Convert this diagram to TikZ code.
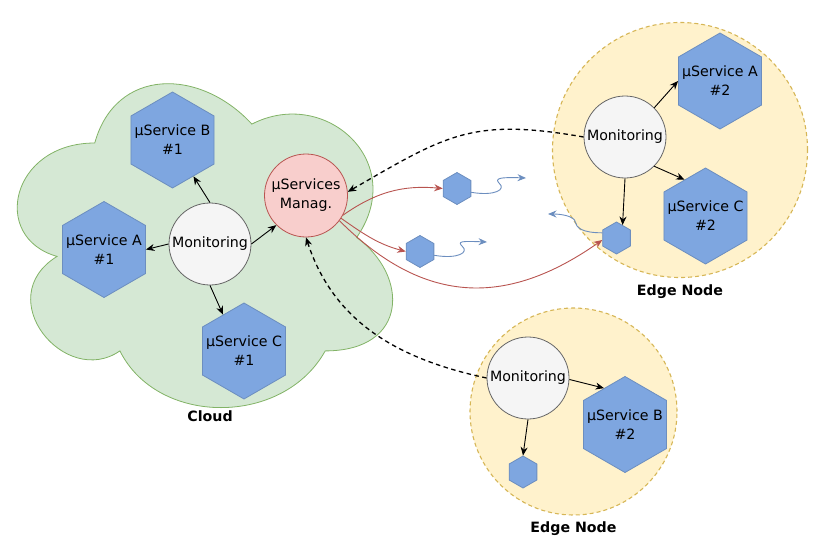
\documentclass[tikz,border=0pt]{standalone}
\usepackage{fontspec}
\setmainfont{DejaVu Sans}
\usepackage{tikz}
\usetikzlibrary{positioning,shapes.geometric,arrows.meta}

\definecolor{cloudfill}{HTML}{D5E8D4}
\definecolor{cloudline}{HTML}{82B366}
\definecolor{hexfill}{HTML}{7EA6E0}
\definecolor{hexline}{HTML}{6C8EBF}
\definecolor{monfill}{HTML}{F5F5F5}
\definecolor{monline}{HTML}{666666}
\definecolor{mgrfill}{HTML}{F8CECC}
\definecolor{mgrline}{HTML}{B85450}
\definecolor{sitefill}{HTML}{FFF2CC}
\definecolor{siteline}{HTML}{D6B656}

\begin{document}
\begin{tikzpicture}[x=1pt,y=-1pt,
  font=\fontsize{14.2}{19}\selectfont,
  >={Stealth[length=8.5pt,width=7pt]},
  hex node/.style={regular polygon,regular polygon sides=6,shape border rotate=30,
    minimum size=96pt,inner sep=0pt,draw=hexline,fill=hexfill,line width=0.8pt},
  hex text/.style={align=center,inner sep=0pt},
  tiny hex/.style={hex node,minimum size=32pt},
  mon node/.style={circle,draw=monline,fill=monfill,minimum size=82pt,inner sep=0pt,line width=0.8pt},
  mgr node/.style={circle,draw=mgrline,fill=mgrfill,minimum size=83pt,inner sep=0pt,align=center,line width=0.8pt},
  site node/.style={circle,draw=siteline,fill=sitefill,dash pattern=on 4pt off 3pt,line width=1.1pt,inner sep=0pt},
  lbl/.style={font=\fontsize{14.2}{19}\selectfont\bfseries,inner sep=0pt},
  arr/.style={->,line width=0.9pt},
  dash arr/.style={->,line width=1.3pt,dash pattern=on 4.5pt off 3.5pt},
  red arr/.style={->,draw=mgrline,line width=0.9pt},
  wave/.style={->,draw=hexline,line width=0.9pt}]

  \useasboundingbox (0,0) rectangle (813,543);

  \begin{scope}[shift={(-10,48.5)},x=4.19pt,y=-3.78pt]
    \draw[fill=cloudfill,draw=cloudline,line width=0.8pt] (25,25)
      .. controls (5,25) and (0,50) .. (16,55)
      .. controls (0,66) and (18,90) .. (31,80)
      .. controls (40,100) and (70,100) .. (80,80)
      .. controls (100,80) and (100,60) .. (87.5,50)
      .. controls (100,30) and (80,10) .. (62.5,20)
      .. controls (50,5) and (30,5) .. (25,25) -- cycle;
  \end{scope}
  \node[lbl] (cloudlbl) at (210,416) {Cloud};

  \node[site node,minimum size=255pt] (site1) at (680,150) {};
  \node[lbl,below=6pt of site1] (lbl1) {Edge Node};
  \node[site node,minimum size=207pt] (site2) at (573.5,411.5) {};
  \node[lbl,below=6pt of site2] (lbl2) {Edge Node};

  \node[mgr node] (mgr) at (306,195.5) {µServices\\Manag.};
  \node[mon node] (mon1) at (210,244) {Monitoring};
  \node[hex node,label={[hex text]center:µService B\\\#1}] (sb1) at (172.5,140) {};
  \node[hex node,label={[hex text]center:µService A\\\#1}] (sa1) at (104,249.5) {};
  \node[hex node,label={[hex text]center:µService C\\\#1}] (sc1) at (244,351) {};

  \node[mon node] (mon2) at (625,137) {Monitoring};
  \node[hex node,label={[hex text]center:µService A\\\#2}] (sa2) at (720,81) {};
  \node[hex node,label={[hex text]center:µService C\\\#2}] (sc2) at (705.5,216) {};
  \node[tiny hex] (sm3) at (616.5,238) {};

  \node[mon node] (mon3) at (528,378) {Monitoring};
  \node[hex node,label={[hex text]center:µService B\\\#2}] (sb2) at (625,424.5) {};
  \node[tiny hex] (sm4) at (523,472) {};

  \node[tiny hex] (sm1) at (457,188.5) {};
  \node[tiny hex] (sm2) at (420,251.5) {};

  \coordinate (w1) at (526,178);
  \coordinate (w2) at (487,242);
  \coordinate (w3) at (548,214);

  \path[arr]
    (mon1.north) edge (sb1.-60)
    (mon1.west) edge (sa1.0)
    (mon1.south) edge (sc1.120)
    (mon1.east) edge (mgr.-135)
    (mon2.45) edge (sa2.180)
    (mon2.-45) edge (sc2.120)
    (mon2.south) edge (sm3.65)
    (mon3.-2) edge (sb2.120)
    (mon3.south) edge (sm4.90);

  \path[dash arr]
    (mon2.west) edge [out=170,in=30,looseness=1.2] (mgr.5)
    (mon3.west) edge [out=168,in=-72] (mgr.south);

  \draw[red arr] (mgr.-28) to[out=35,in=175] (sm1.180);
  \draw[red arr] (mgr.-33) to[out=-35,in=165] (sm2.180);
  \draw[red arr] (mgr.-37) to[out=-45,in=215,looseness=1.15] (sm3.188);

  \draw[wave] (sm1.-15) .. controls +(24,4) and +(7,6) .. ++(28,-9)
    .. controls +(-5,-5) and +(-26,-1) .. (w1);
  \draw[wave] (sm2.-15) .. controls +(24,4) and +(7,6) .. ++(28,-9)
    .. controls +(-5,-5) and +(-26,-1) .. (w2);
  \draw[wave] (sm3.160) .. controls +(-20,0) and +(1,6) .. ++(-27,-11)
    .. controls +(-1,-6) and +(12,0) .. (w3);

\end{tikzpicture}
\end{document}
